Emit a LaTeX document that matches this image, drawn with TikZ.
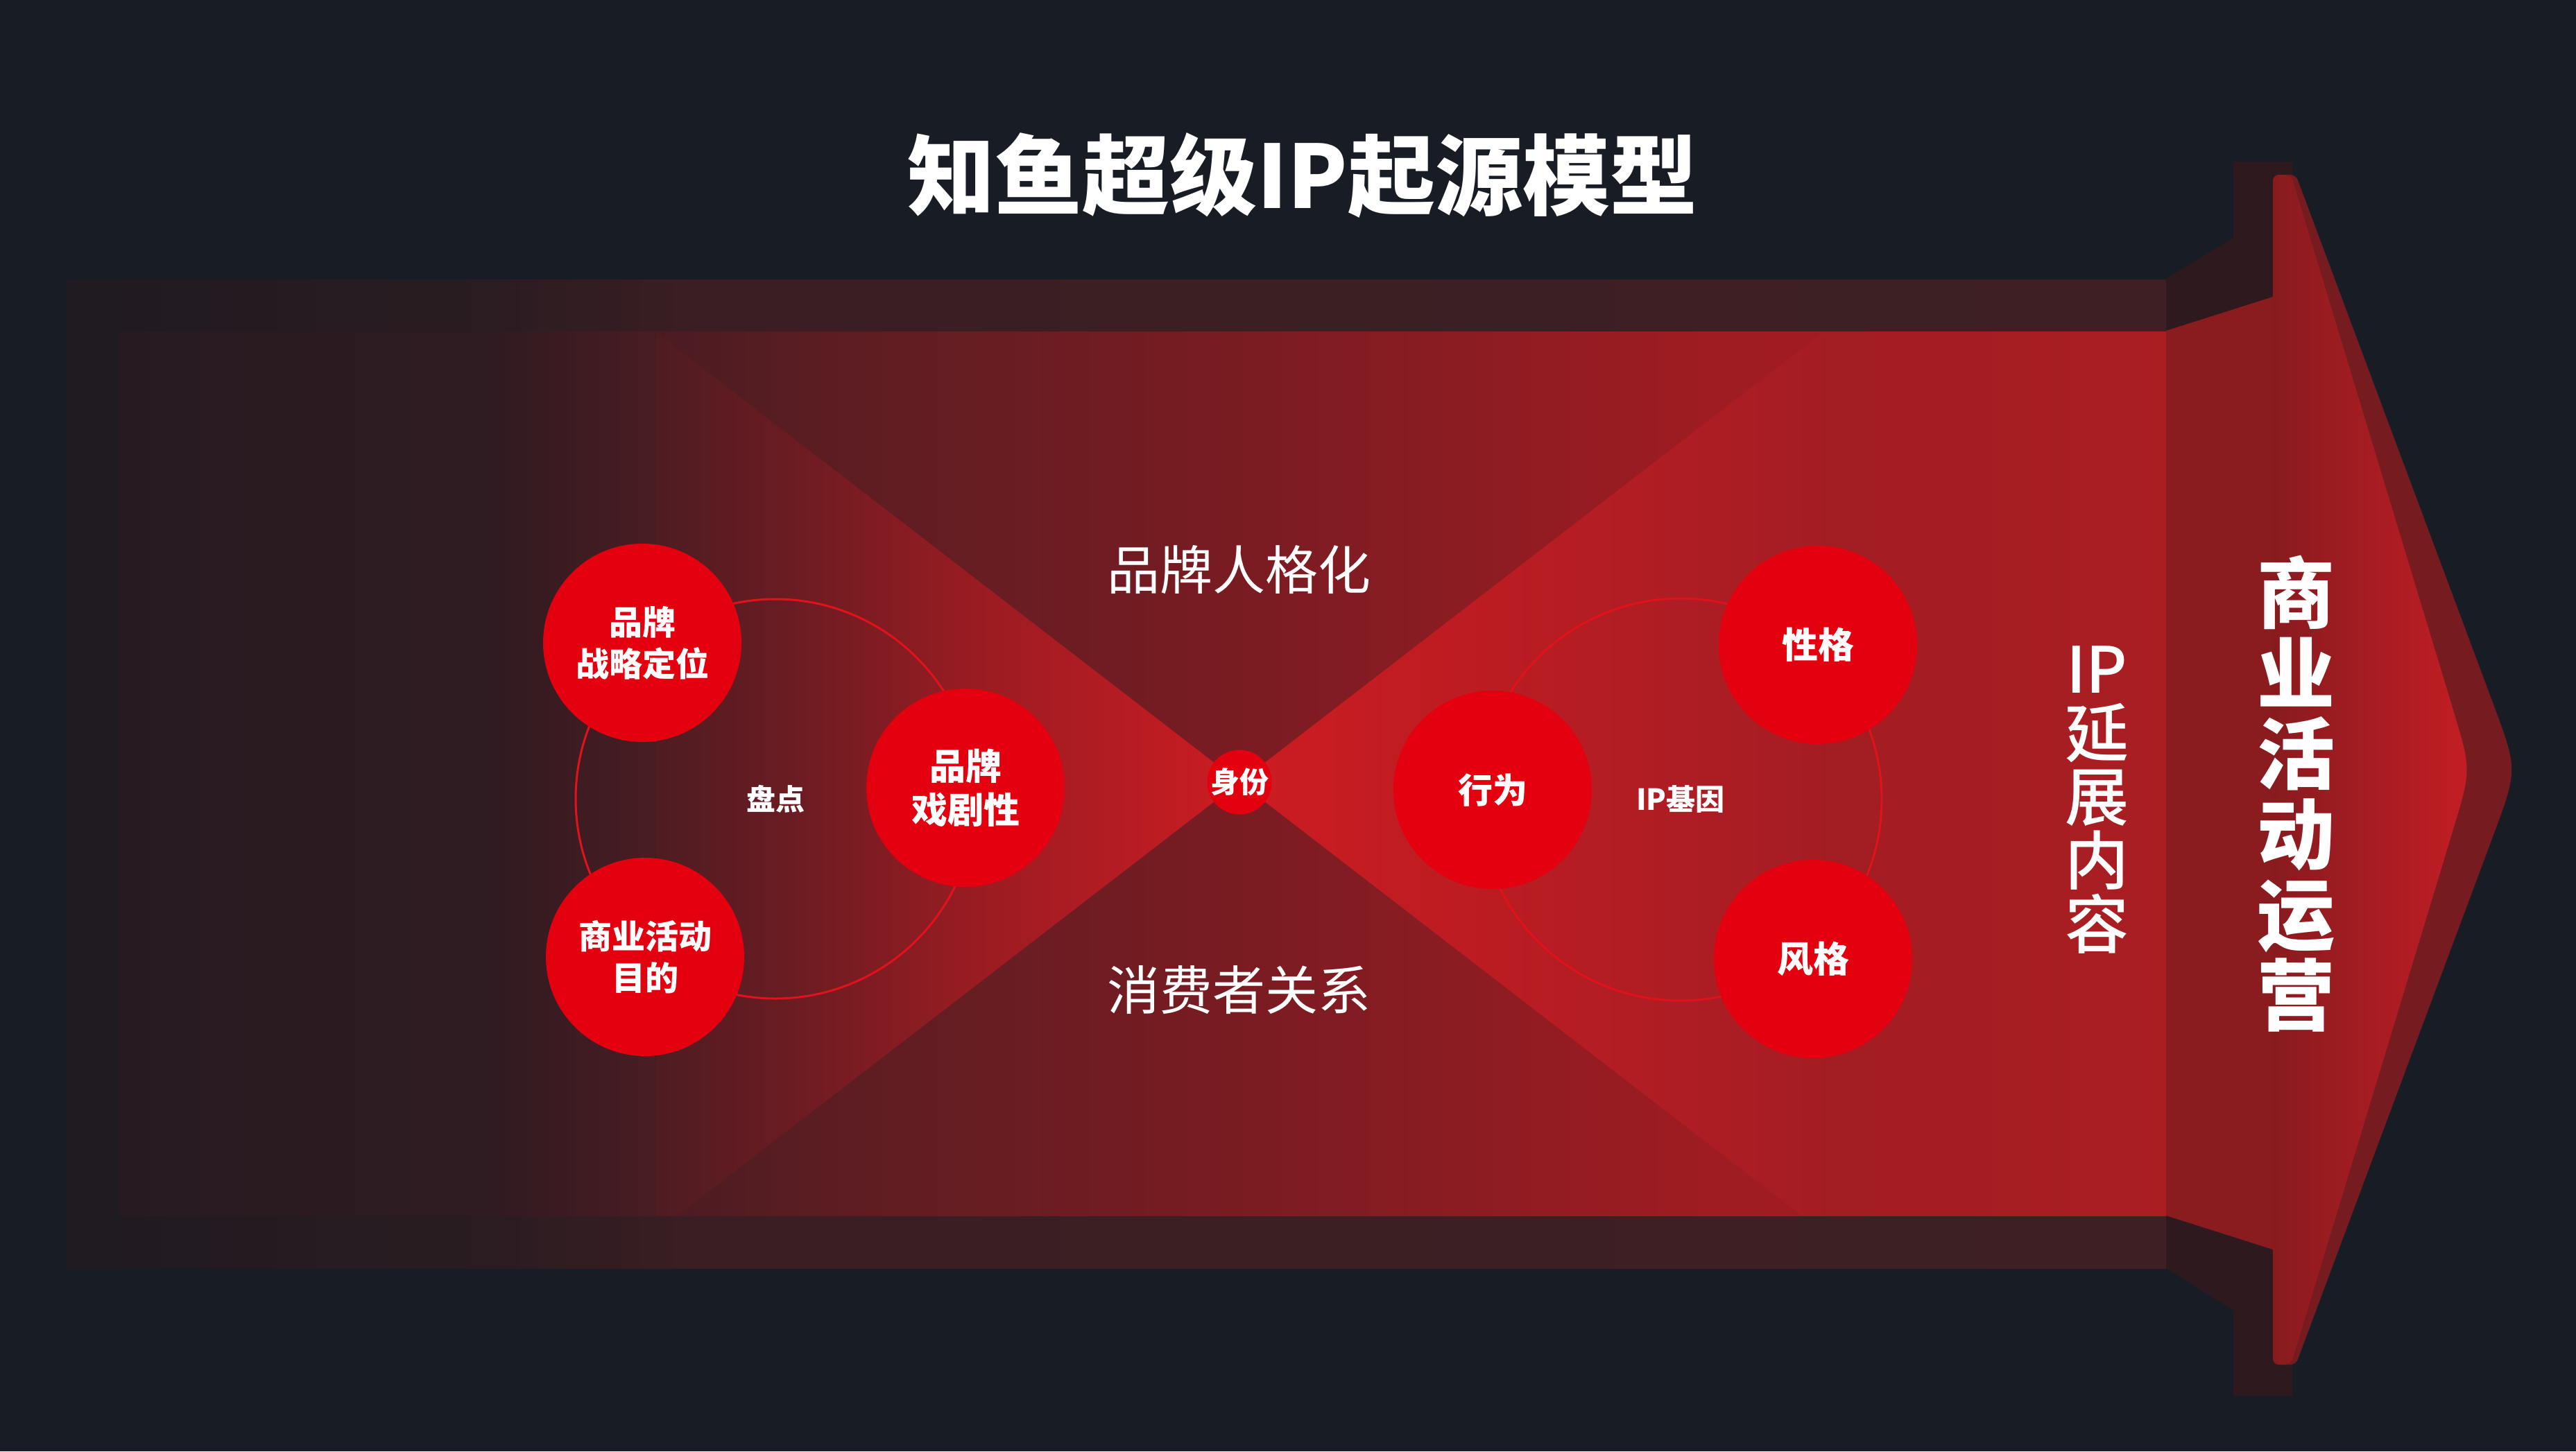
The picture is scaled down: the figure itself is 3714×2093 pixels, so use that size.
\documentclass[tikz,border=0pt]{standalone}
\usepackage{fontspec}
\newfontfamily\cjk{Noto Sans CJK SC}
\newfontfamily\cjkm{Noto Sans CJK SC Medium}
\definecolor{bg}{HTML}{181C24}
\definecolor{ob1}{HTML}{1F1B21}
\definecolor{ob2}{HTML}{2A1C21}
\definecolor{ob3}{HTML}{3A1E23}
\definecolor{ob4}{HTML}{3E2024}
\definecolor{ib1}{HTML}{271B21}
\definecolor{ib2}{HTML}{2E1B21}
\definecolor{ib3}{HTML}{4A1C22}
\definecolor{ib4}{HTML}{5C1D22}
\definecolor{ib5}{HTML}{7A1C22}
\definecolor{ib6}{HTML}{9E1C22}
\definecolor{ib7}{HTML}{AA1E22}
\definecolor{lt1}{HTML}{4E1C22}
\definecolor{lt2}{HTML}{6C1C22}
\definecolor{lt3}{HTML}{981C22}
\definecolor{lt4}{HTML}{CC1C22}
\definecolor{rt1}{HTML}{CC1C22}
\definecolor{rt2}{HTML}{A41D23}
\definecolor{neckdark}{HTML}{2E1A1E}
\definecolor{neckred}{HTML}{8A1C20}
\definecolor{headshadow}{HTML}{761C20}
\definecolor{headL}{HTML}{881B1F}
\definecolor{headR}{HTML}{C41D24}
\definecolor{cred}{HTML}{E3000F}
\definecolor{cring}{HTML}{E0121B}
\pgfdeclarehorizontalshading{outerband}{100bp}{color(0bp)=(ob1); color(25bp)=(ob1); color(35bp)=(ob2); color(39.9bp)=(ob3); color(75bp)=(ob4); color(100bp)=(ob4)}
\pgfdeclarehorizontalshading{innerband}{100bp}{color(0bp)=(ib1); color(25bp)=(ib1); color(33.9bp)=(ib2); color(38.2bp)=(ib3); color(42.4bp)=(ib4); color(52.6bp)=(ib5); color(63.6bp)=(ib6); color(75bp)=(ib7); color(100bp)=(ib7)}
\pgfdeclarehorizontalshading{lefttri}{100bp}{color(0bp)=(lt1); color(25bp)=(lt1); color(37.1bp)=(lt2); color(52bp)=(lt3); color(75bp)=(lt4); color(100bp)=(lt4)}
\pgfdeclarehorizontalshading{righttri}{100bp}{color(0bp)=(rt1); color(25bp)=(rt1); color(75bp)=(rt2); color(100bp)=(rt2)}
\begin{document}
\begin{tikzpicture}[x=1pt,y=-1pt,
  dot/.style={circle, fill=cred, minimum size=286pt, inner sep=0pt, text=white, align=center},
  ring/.style={circle, draw=cring, line width=3pt, inner sep=0pt, text=white},
  fb/.style 2 args={font=\cjk\bfseries\fontsize{#1}{#2}\selectfont},
  fm/.style 2 args={font=\cjkm\fontsize{#1}{#2}\selectfont},
  fr/.style 2 args={font=\cjk\fontsize{#1}{#2}\selectfont},
  textnode/.style={inner sep=0pt, text=white, align=center}
]
\useasboundingbox (0,0) rectangle (3714,2093);
\fill[bg] (0,0) rectangle (3714,2093);
% bands
\shade[shading=outerband] (96,403) rectangle (3123,1829);
\shade[shading=innerband] (172,478) rectangle (3123,1753);
% bow tie
\begin{scope}
\clip (172,478) rectangle (3123,1753);
\shade[shading=lefttri] (947,480) -- (1787,1128) -- (947,1776) -- cycle;
\shade[shading=righttri] (1787,1128) -- (2627,480) -- (2627,1776) -- cycle;
\end{scope}
% neck
\fill[neckdark] (3123,402) -- (3220,343) -- (3220,233) -- (3305,233) -- (3305,2013) -- (3220,2013) -- (3220,1890) -- (3123,1829) -- cycle;
\fill[neckred] (3123,477) -- (3277,428) -- (3277,1802) -- (3123,1753) -- cycle;
% arrow head
\fill[headshadow, rounded corners=8pt] (3277,252) -- (3310,252) -- (3591.6,1006.9) .. controls (3630,1110) .. (3591.6,1213.1) -- (3310,1968) -- (3277,1968) -- cycle;
\shade[left color=headL, right color=headR, rounded corners=10pt] (3277,252) -- (3303,252) -- (3534,1014.3) .. controls (3563,1110) .. (3534,1205.7) -- (3303,1968) -- (3277,1968) -- cycle;
% texts
\node[textnode, fb={126}{150}] (title) at (1878,253) {知鱼超级IP起源模型};
\node[textnode, fr={76}{90}] (persona) at (1786,822) {品牌人格化};
\node[textnode, fr={76}{90}] (consumer) at (1786,1428) {消费者关系};
\node[textnode, fm={92}{92}] (ipext) at (3023,1153) {IP\\延\\展\\内\\容};
\node[textnode, fb={112}{116}] (ops) at (3310,1145) {商\\业\\活\\动\\运\\营};
% rings
\node[ring, minimum size=576pt, fb={42}{50}] (pandian) at (1118,1152) {盘点};
\node[ring, minimum size=580pt, fb={42}{50}] (ipgene) at (2423,1153) {IP基因};
% circles
\node[dot, fb={48}{60}] (strategy) at (926,927) {品牌\\战略定位};
\node[dot, fb={48}{60}] (goal) at (930,1380) {商业活动\\目的};
\node[dot, fb={52}{63}] (drama) at (1392,1136) {品牌\\戏剧性};
\node[dot, minimum size=92pt, fb={42}{50}] (identity) at (1787,1128) {身份};
\node[dot, fb={50}{60}] (behavior) at (2152,1139) {行为};
\node[dot, fb={52}{63}] (character) at (2621,930) {性格};
\node[dot, fb={52}{63}] (style) at (2614,1383) {风格};
\end{tikzpicture}
\end{document}
